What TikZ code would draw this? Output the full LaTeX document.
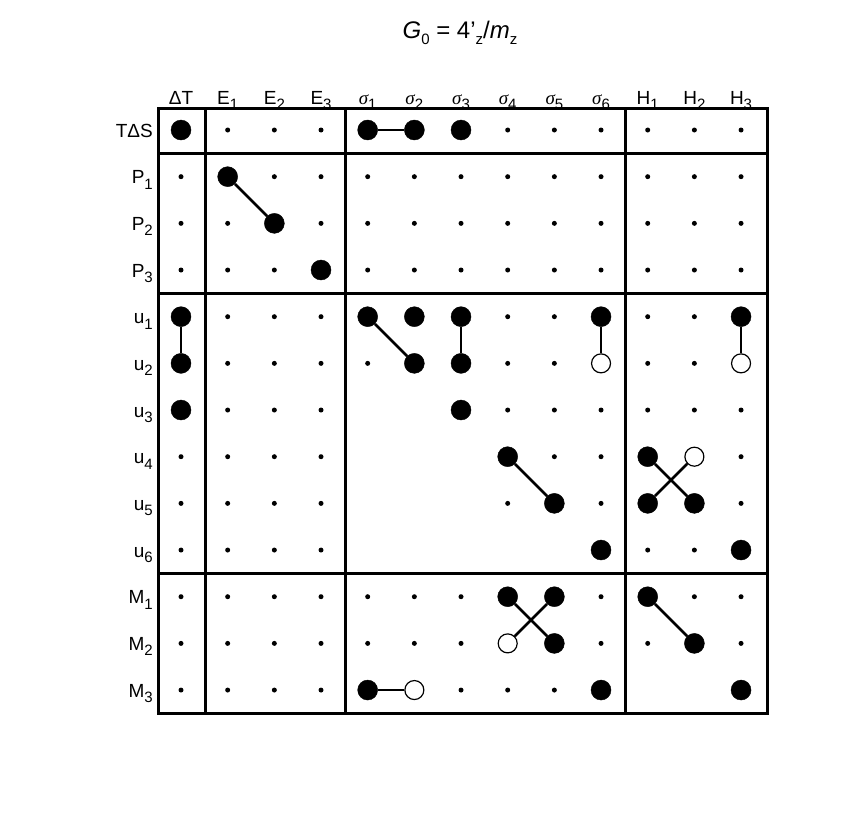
\documentclass[tikz,border=0pt]{standalone}
\usepackage{fontspec}
\setmainfont{Liberation Sans}
\newfontfamily\grkfont{Liberation Serif}
\newcommand{\lo}[1]{\raisebox{-0.55ex}{\fontsize{15}{15}\selectfont #1}}
\newcommand{\sg}[1]{{\grkfont\itshape σ}\lo{#1}}
\begin{document}
\begin{tikzpicture}[x=1pt,y=-1pt,
    full/.style={circle,fill=black,draw=black,inner sep=0pt,minimum size=20pt},
    hollow/.style={circle,fill=white,draw=black,line width=1.2pt,inner sep=0pt,minimum size=19pt},
    tiny/.style={circle,fill=black,inner sep=0pt,minimum size=5pt},
    link/.style={line width=2.6pt},
    frame/.style={line width=3pt},
    lab/.style={font=\fontsize{19}{19}\selectfont,inner sep=0pt}]
  \useasboundingbox (0,0) rectangle (856,812);
  % grid positions
  \foreach \r in {0,...,12}
    \foreach \c in {0,...,12}
      \coordinate (p\r-\c) at ({181+46.67*\c},{130+46.67*\r});
  % filled, hollow, blank
  \foreach \r/\c in {0/0,0/4,0/5,0/6,1/1,2/2,3/3,4/0,4/4,4/5,4/6,4/9,4/12,5/0,5/5,5/6,
      6/0,6/6,7/7,7/10,8/8,8/10,8/11,9/9,9/12,10/7,10/8,10/10,11/8,11/11,12/4,12/9,12/12}
    {\node[full] (d\r-\c) at (p\r-\c) {}; \global\expandafter\let\csname used\r-\c\endcsname\relax}
  \foreach \r/\c in {5/9,5/12,7/11,11/7,12/5}
    {\node[hollow] (d\r-\c) at (p\r-\c) {}; \global\expandafter\let\csname used\r-\c\endcsname\relax}
  \foreach \r/\c in {6/4,6/5,7/4,7/5,7/6,8/4,8/5,8/6,9/4,9/5,9/6,9/7,9/8,12/10,12/11}
    {\global\expandafter\let\csname used\r-\c\endcsname\relax}
  \foreach \r in {0,...,12}
    \foreach \c in {0,...,12}
      {\ifcsname used\r-\c\endcsname\else\node[tiny] (d\r-\c) at (p\r-\c) {};\fi}
  % links
  \foreach \a/\b in {0-4/0-5,1-1/2-2,4-0/5-0,4-4/5-5,4-6/5-6,4-9/5-9,4-12/5-12,7-7/8-8,
      7-10/8-11,8-10/7-11,10-7/11-8,10-8/11-7,10-10/11-11,12-4/12-5}
    \draw[link] (d\a) -- (d\b);
  % frame
  \draw[frame] (158,108) rectangle (767,713);
  \foreach \x in {205,345,625} \draw[frame] (\x,108) -- (\x,713);
  \foreach \y in {153,293,573} \draw[frame] (158,\y) -- (767,\y);
  % column labels
  \foreach \t [count=\i from 0] in {ΔT,E\lo{1},E\lo{2},E\lo{3},\sg{1},\sg{2},\sg{3},\sg{4},\sg{5},\sg{6},H\lo{1},H\lo{2},H\lo{3}}
    \node[lab,anchor=base] (col\i) at ({181+46.67*\i},104) {\t};
  % row labels
  \foreach \t [count=\i from 0] in {TΔS,P\lo{1},P\lo{2},P\lo{3},u\lo{1},u\lo{2},u\lo{3},u\lo{4},u\lo{5},u\lo{6},M\lo{1},M\lo{2},M\lo{3}}
    \node[lab,anchor=base east] (row\i) at ({153},{137+46.67*\i}) {\t};
  \node[font=\fontsize{24}{24}\selectfont,inner sep=0pt,anchor=base] (title) at (460,38)
    {\textit{G}\lo{0} = 4'\lo{z}/\textit{m}\lo{z}};
\end{tikzpicture}
\end{document}
